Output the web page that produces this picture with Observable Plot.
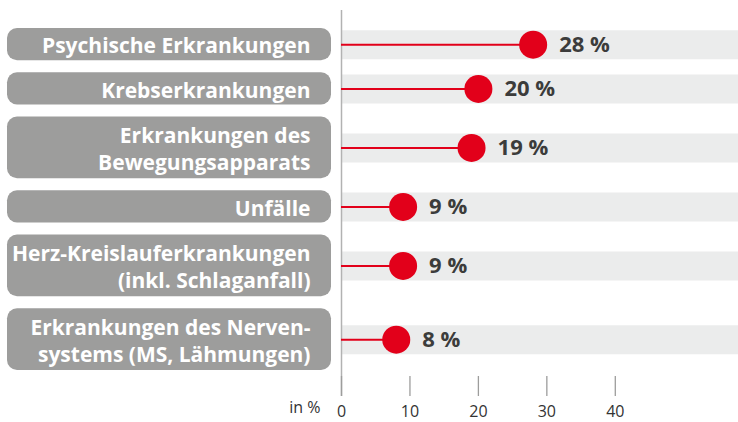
<!DOCTYPE html>
<html><head><meta charset="utf-8">
<script src="https://cdn.jsdelivr.net/npm/d3@7"></script>
<script src="https://cdn.jsdelivr.net/npm/@observablehq/plot@0.6"></script>
<style>body{margin:0;background:#fff}</style>
</head><body><div id="chart"></div>
<script>
const categories = [
  "Psychische Erkrankungen",
  "Krebserkrankungen",
  "Erkrankungen des\nBewegungsapparats",
  "Unfälle",
  "Herz-Kreislauferkrankungen\n(inkl. Schlaganfall)",
  "Erkrankungen des Nerven-\nsystems (MS, Lähmungen)"
];
const values = [28, 20, 19, 9, 9, 8];
const xTicks = [0, 10, 20, 30, 40];
const axisLabel = "in %";

// row layout: each row's height = padding + number of text lines
let acc = 0;
const rows = categories.map((label, i) => {
  const lines = label.split("\n").length;
  const h = 0.5 + lines;
  const r = {label, value: values[i], y1: acc, y2: acc + h, y: acc + h / 2};
  acc += h;
  return r;
});

const chart = Plot.plot({
  width: 738, height: 422,
  marginLeft: 341, marginRight: 0, marginTop: 22, marginBottom: 46,
  x: {domain: [0, 58]},
  y: {domain: [0, acc], reverse: true, axis: null},
  style: {fontFamily: "'Open Sans', sans-serif", background: "#fff", overflow: "visible"},
  marks: [
    Plot.ruleY(rows, {y: "y", stroke: "#ebecec", strokeWidth: 29}),
    Plot.rect(rows, {y1: "y1", y2: "y2", fill: "#9d9d9c", rx: 10, insetTop: 6, insetBottom: 6, insetLeft: -334, insetRight: 407}),
    Plot.text(rows, {y: "y", text: "label", frameAnchor: "left", dx: -31, textAnchor: "end", fill: "white", fontWeight: "bold", fontSize: 21, lineHeight: 1.3}),
    Plot.ruleX([0], {stroke: "#b2b2b2", strokeWidth: 1.5, insetTop: -12, insetBottom: -20}),
    Plot.ruleY(rows, {x1: 0, x2: "value", y: "y", stroke: "#e2001a", strokeWidth: 2}),
    Plot.dot(rows, {x: "value", y: "y", r: 14, fill: "#e2001a"}),
    Plot.text(rows, {x: "value", y: "y", text: d => `${d.value} %`, dx: 26, textAnchor: "start", fill: "#3c3c3b", fontWeight: "bold", fontSize: 22}),
    Plot.axisX({ticks: xTicks, tickSize: 20, tickPadding: 9, stroke: "#9d9d9c", strokeWidth: 1.3, fill: "#333", fontSize: 16, label: null}),
    Plot.text([axisLabel], {frameAnchor: "bottom-left", dx: -21, dy: 36, textAnchor: "end", fontSize: 16, fill: "#333"})
  ]
});
document.getElementById("chart").appendChild(chart);
</script>
</body></html>
